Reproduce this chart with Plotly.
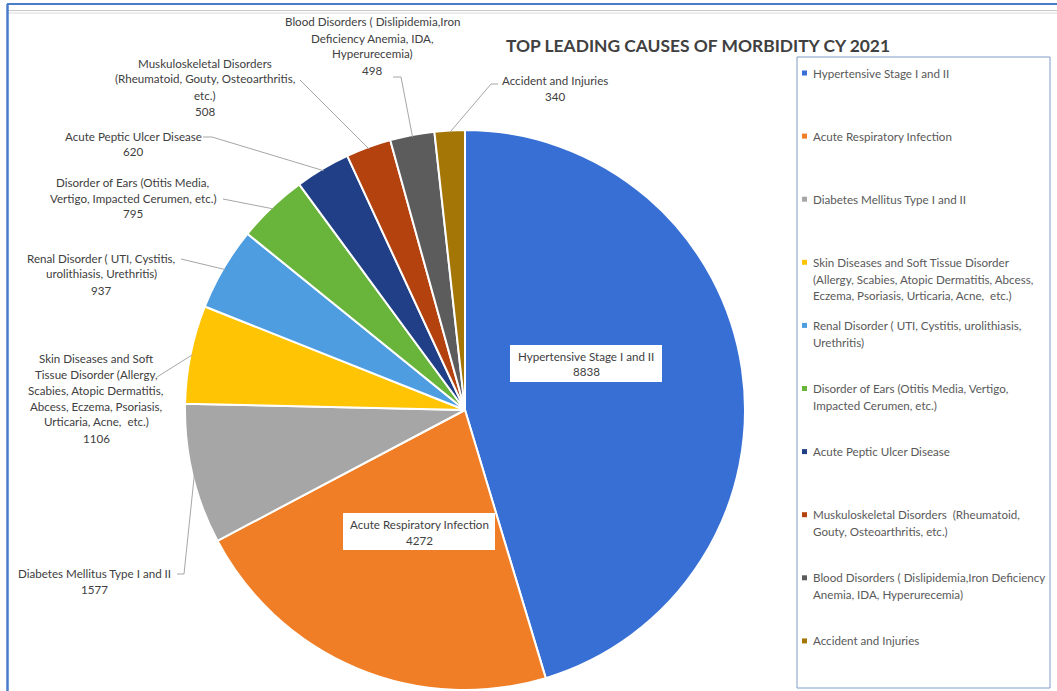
import math
import plotly.graph_objects as go

# ---------------- data ----------------
categories = [
    "Hypertensive Stage I and II",
    "Acute Respiratory Infection",
    "Diabetes Mellitus Type I and II",
    "Skin Diseases and Soft Tissue Disorder (Allergy, Scabies, Atopic Dermatitis, Abcess, Eczema, Psoriasis, Urticaria, Acne,  etc.)",
    "Renal Disorder ( UTI, Cystitis, urolithiasis, Urethritis)",
    "Disorder of Ears (Otitis Media, Vertigo, Impacted Cerumen, etc.)",
    "Acute Peptic Ulcer Disease",
    "Muskuloskeletal Disorders  (Rheumatoid, Gouty, Osteoarthritis, etc.)",
    "Blood Disorders ( Dislipidemia,Iron Deficiency Anemia, IDA, Hyperurecemia)",
    "Accident and Injuries",
]
values = [8838, 4272, 1577, 1106, 937, 795, 620, 508, 498, 340]

# wrapped texts for the data labels (category lines; value appended below)
label_lines = [
    ["Hypertensive Stage I and II"],
    ["Acute Respiratory Infection"],
    ["Diabetes Mellitus Type I and II"],
    ["Skin Diseases and Soft", "Tissue Disorder (Allergy,", "Scabies, Atopic Dermatitis,",
     "Abcess, Eczema, Psoriasis,", "Urticaria, Acne,  etc.)"],
    ["Renal Disorder ( UTI, Cystitis,", "urolithiasis, Urethritis)"],
    ["Disorder of Ears (Otitis Media,", "Vertigo, Impacted Cerumen, etc.)"],
    ["Acute Peptic Ulcer Disease"],
    ["Muskuloskeletal Disorders", "(Rheumatoid, Gouty, Osteoarthritis,", "etc.)"],
    ["Blood Disorders ( Dislipidemia,Iron", "Deficiency Anemia, IDA,", "Hyperurecemia)"],
    ["Accident and Injuries"],
]

# wrapped texts for the legend
legend_lines = [
    ["Hypertensive Stage I and II"],
    ["Acute Respiratory Infection"],
    ["Diabetes Mellitus Type I and II"],
    ["Skin Diseases and Soft Tissue Disorder", "(Allergy, Scabies, Atopic Dermatitis, Abcess,",
     "Eczema, Psoriasis, Urticaria, Acne,  etc.)"],
    ["Renal Disorder ( UTI, Cystitis, urolithiasis,", "Urethritis)"],
    ["Disorder of Ears (Otitis Media, Vertigo,", "Impacted Cerumen, etc.)"],
    ["Acute Peptic Ulcer Disease"],
    ["Muskuloskeletal Disorders  (Rheumatoid,", "Gouty, Osteoarthritis, etc.)"],
    ["Blood Disorders ( Dislipidemia,Iron Deficiency", "Anemia, IDA, Hyperurecemia)"],
    ["Accident and Injuries"],
]

title_text = "TOP LEADING CAUSES OF MORBIDITY CY 2021"

colors = ["#386FD5", "#F07E26", "#A6A6A6", "#FFC404", "#4D9DE0",
          "#69B53C", "#213F86", "#B3420E", "#5C5C5C", "#A47605"]

# ---------------- layout constants (pixels) ----------------
W, H = 1057, 691
CX, CY, R = 465, 410, 280
FONT = "Lato, 'Open Sans', sans-serif"
LBL_COLOR = "#404040"
LEG_COLOR = "#595959"
LBL_SIZE = 11.6
LEG_SIZE = 11.6
LINE_H = 16

# label placement: (center x, first line y, inside-box?, leader anchor (x,y) or None, elbow x)
label_pos = [
    (586, 356, True, None, None),
    (419, 524, True, None, None),
    (94, 573, False, (177, 574), 184),
    (96, 358, False, (157, 377), None),
    (101, 258, False, (181, 259), None),
    (133, 182, False, (223, 199), None),
    (133, 136, False, (203, 137), 212),
    (205, 63, False, (300, 80), None),
    (372, 22, False, (393, 77), 401),
    (555, 80, False, (498, 84), 491),
]


def px(x):
    return x / W


def py(y):
    return 1 - y / H


fig = go.Figure()
fig.add_trace(go.Pie(
    labels=categories,
    values=values,
    sort=False,
    direction="clockwise",
    rotation=0,
    marker=dict(colors=colors, line=dict(color="white", width=2)),
    textinfo="none",
    hoverinfo="label+value",
    showlegend=False,
    domain=dict(x=[px(CX - R), px(CX + R)], y=[py(CY + R), py(CY - R)]),
))

annotations = []
shapes = []

# slice mid angles from the data
total = sum(values)
cum = 0
mid_angles = []
for v in values:
    mid_angles.append((cum + v / 2) / total * 2 * math.pi)
    cum += v

for i, (cx, y0, inside, anchor, elbow) in enumerate(label_pos):
    lines = label_lines[i] + [f"{values[i]}"]
    if inside:
        bw = 152
        shapes.append(dict(type="rect", xref="paper", yref="paper",
                           x0=px(cx - bw / 2), x1=px(cx + bw / 2),
                           y0=py(y0 - 11), y1=py(y0 + LINE_H * (len(lines) - 1) + 10),
                           fillcolor="white", line=dict(width=0), layer="above"))
    for k, t in enumerate(lines):
        annotations.append(dict(
            x=px(cx), y=py(y0 + k * LINE_H), xref="paper", yref="paper",
            text=t, showarrow=False, xanchor="center", yanchor="middle",
            font=dict(family=FONT, size=LBL_SIZE, color=LBL_COLOR)))
    if anchor is not None:
        a = mid_angles[i]
        ex = CX + (R - 2) * math.sin(a)
        ey = CY - (R - 2) * math.cos(a)
        path = f"M {px(anchor[0])},{py(anchor[1])}"
        if elbow is not None:
            path += f" L {px(elbow)},{py(anchor[1])}"
        path += f" L {px(ex)},{py(ey)}"
        shapes.append(dict(type="path", xref="paper", yref="paper", path=path,
                           line=dict(color="#A6A6A6", width=1)))

# title
annotations.append(dict(x=px(698), y=py(45), xref="paper", yref="paper", text=f"<b>{title_text}</b>",
                        showarrow=False, xanchor="center", yanchor="middle",
                        font=dict(family=FONT, size=17.4, color="#404040")))

# legend (drawn manually to mimic the spaced Excel legend)
LEG_X0, LEG_Y0, LEG_X1, LEG_Y1 = 797, 57, 1050, 688
shapes.append(dict(type="rect", xref="paper", yref="paper",
                   x0=px(LEG_X0), x1=px(LEG_X1), y0=py(LEG_Y1), y1=py(LEG_Y0),
                   line=dict(color="#7F9CC6", width=1), fillcolor="rgba(0,0,0,0)"))
for i, lines in enumerate(legend_lines):
    ly = 73 + i * 63.1
    shapes.append(dict(type="rect", xref="paper", yref="paper",
                       x0=px(802), x1=px(807), y0=py(ly + 2.5), y1=py(ly - 2.5),
                       fillcolor=colors[i], line=dict(width=0)))
    for k, t in enumerate(lines):
        annotations.append(dict(
            x=px(811), y=py(ly + k * 16.8), xref="paper", yref="paper",
            text=t, showarrow=False, xanchor="left", yanchor="middle",
            font=dict(family=FONT, size=LEG_SIZE, color=LEG_COLOR)))

# window frame lines
shapes.append(dict(type="line", xref="paper", yref="paper", x0=px(7), x1=1, y0=py(4), y1=py(4),
                   line=dict(color="#4A7CC9", width=2)))
shapes.append(dict(type="line", xref="paper", yref="paper", x0=px(8), x1=1, y0=py(10.5), y1=py(10.5),
                   line=dict(color="#C8C8C8", width=1)))
shapes.append(dict(type="line", xref="paper", yref="paper", x0=px(8), x1=1, y0=py(13), y1=py(13),
                   line=dict(color="#DADADA", width=1)))
shapes.append(dict(type="line", xref="paper", yref="paper", x0=px(7.5), x1=px(7.5), y0=py(4), y1=0,
                   line=dict(color="#4A7CC9", width=2.5)))

fig.update_layout(
    width=W, height=H,
    margin=dict(l=0, r=0, t=0, b=0),
    paper_bgcolor="white",
    plot_bgcolor="white",
    annotations=annotations,
    shapes=shapes,
    showlegend=False,
)

fig.write_html(
    "out.html",
    config={"displayModeBar": False},
    post_script="document.body.style.margin='0';document.body.style.overflow='hidden';",
)
